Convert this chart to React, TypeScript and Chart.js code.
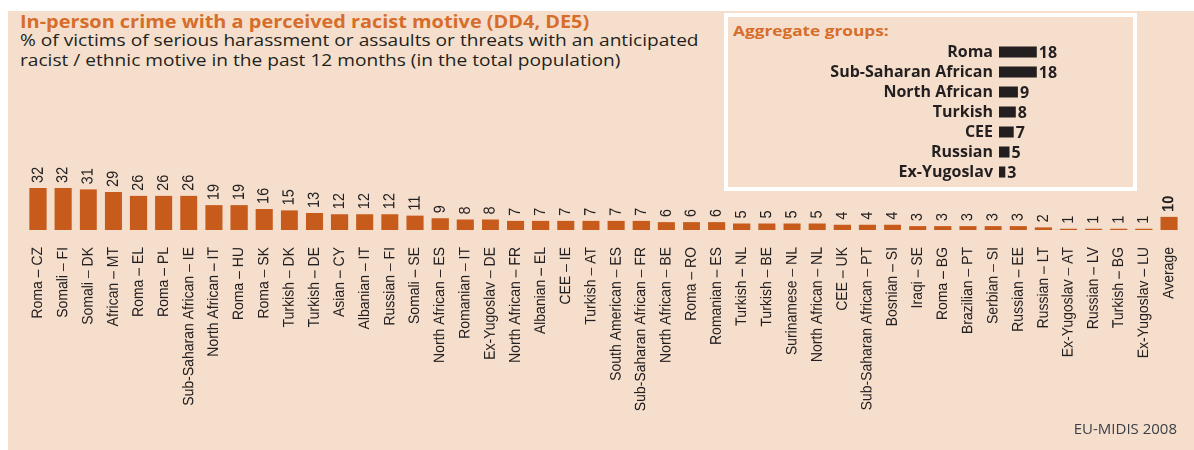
import React, { useEffect, useRef } from "react";
import { Chart, registerables } from "chart.js";

Chart.register(...registerables);

const categories = [
  "Roma – CZ", "Somali – FI", "Somali – DK", "African – MT", "Roma – EL", "Roma – PL",
  "Sub-Saharan African – IE", "North African – IT", "Roma – HU", "Roma – SK", "Turkish – DK",
  "Turkish – DE", "Asian – CY", "Albanian – IT", "Russian – FI", "Somali – SE",
  "North African – ES", "Romanian – IT", "Ex-Yugoslav – DE", "North African – FR",
  "Albanian – EL", "CEE – IE", "Turkish – AT", "South American – ES",
  "Sub-Saharan African – FR", "North African – BE", "Roma – RO", "Romanian – ES",
  "Turkish – NL", "Turkish – BE", "Surinamese – NL", "North African – NL", "CEE – UK",
  "Sub-Saharan African – PT", "Bosnian – SI", "Iraqi – SE", "Roma – BG", "Brazilian – PT",
  "Serbian – SI", "Russian – EE", "Russian – LT", "Ex-Yugoslav – AT", "Russian – LV",
  "Turkish – BG", "Ex-Yugoslav – LU", "Average",
];
const values = [
  32, 32, 31, 29, 26, 26, 26, 19, 19, 16, 15, 13, 12, 12, 12, 11, 9, 8, 8, 7, 7, 7, 7, 7, 7,
  6, 6, 6, 5, 5, 5, 5, 4, 4, 4, 3, 3, 3, 3, 3, 2, 1, 1, 1, 1, 10,
];

const aggregateGroups = ["Roma", "Sub-Saharan African", "North African", "Turkish", "CEE", "Russian", "Ex-Yugoslav"];
const aggregateValues = [18, 18, 9, 8, 7, 5, 3];

const titleText = "In-person crime with a perceived racist motive (DD4, DE5)";
const subtitleLines = [
  "% of victims of serious harassment or assaults or threats with an anticipated",
  "racist / ethnic motive in the past 12 months (in the total population)",
];
const insetTitle = "Aggregate groups:";
const sourceText = "EU-MIDIS 2008";

const BEIGE = "#f5dfcc";
const BAR_ORANGE = "#c65b1c";
const TEXT_ORANGE = "#d66d2b";
const DARK = "#231f20";
const LIB = "'Liberation Sans', Arial, sans-serif";
const OPEN = "'Open Sans', sans-serif";
const STRETCH = 1.12;

const mainValueLabels = {
  id: "mainValueLabels",
  afterDatasetsDraw(chart: any) {
    const ctx = chart.ctx;
    const meta = chart.getDatasetMeta(0);
    const data = chart.data.datasets[0].data;
    meta.data.forEach((el: any, i: number) => {
      ctx.save();
      ctx.translate(el.x, el.y - 5);
      ctx.rotate(-Math.PI / 2);
      ctx.font = `${i === data.length - 1 ? "bold " : ""}14.5px ${LIB}`;
      ctx.fillStyle = DARK;
      ctx.textAlign = "left";
      ctx.textBaseline = "middle";
      ctx.fillText(String(data[i]), 0, 0);
      ctx.restore();
    });
  },
};

const insetValueLabels = {
  id: "insetValueLabels",
  afterDatasetsDraw(chart: any) {
    const ctx = chart.ctx;
    const meta = chart.getDatasetMeta(0);
    const data = chart.data.datasets[0].data;
    meta.data.forEach((el: any, i: number) => {
      ctx.save();
      ctx.font = `bold 16px ${OPEN}`;
      ctx.fillStyle = DARK;
      ctx.textAlign = "left";
      ctx.textBaseline = "middle";
      ctx.fillText(String(data[i]), el.x + 2, el.y + 1);
      ctx.restore();
    });
  },
};

export default function App() {
  const mainRef = useRef<HTMLCanvasElement>(null);
  const insetRef = useRef<HTMLCanvasElement>(null);

  useEffect(() => {
    const main = new Chart(mainRef.current!, {
      type: "bar",
      data: {
        labels: categories,
        datasets: [
          {
            data: values,
            backgroundColor: BAR_ORANGE,
            barPercentage: 0.68,
            categoryPercentage: 1,
          },
        ],
      },
      options: {
        responsive: false,
        animation: false,
        devicePixelRatio: 2,
        layout: { padding: { left: 15.54, right: 11.14, top: 27.5, bottom: 0 } },
        plugins: { legend: { display: false }, tooltip: { enabled: false } },
        scales: {
          x: {
            grid: { display: false, drawTicks: false },
            border: { display: false },
            ticks: {
              autoSkip: false,
              maxRotation: 90,
              minRotation: 90,
              padding: 17,
              color: DARK,
              font: { family: LIB, size: 14 },
            },
            afterFit: (s: any) => {
              s.height = 220;
              s.paddingLeft = 0;
              s.paddingRight = 0;
            },
          },
          y: { display: false, min: 0, max: 40 },
        },
      },
      plugins: [mainValueLabels],
    } as any);

    const inset = new Chart(insetRef.current!, {
      type: "bar",
      data: {
        labels: aggregateGroups,
        datasets: [
          {
            data: aggregateValues,
            backgroundColor: DARK,
            barPercentage: 0.55,
            categoryPercentage: 1,
          },
        ],
      },
      options: {
        indexAxis: "y",
        responsive: false,
        animation: false,
        layout: { padding: { left: 0, right: 47, top: 2, bottom: 3 } },
        plugins: { legend: { display: false }, tooltip: { enabled: false } },
        scales: {
          x: { display: false, min: 0, max: 40 },
          y: {
            grid: { display: false, drawTicks: false },
            border: { display: false },
            ticks: {
              autoSkip: false,
              padding: 6,
              color: DARK,
              font: { family: OPEN, size: 16, weight: "bold" },
            },
            afterFit: (s: any) => {
              s.width = 269;
              s.paddingTop = 0;
              s.paddingBottom = 0;
            },
          },
        },
      },
      plugins: [insetValueLabels],
    } as any);

    return () => {
      main.destroy();
      inset.destroy();
    };
  }, []);

  return (
    <div
      style={{
        position: "absolute",
        left: 8,
        top: 11,
        width: 1186,
        height: 439,
        background: BEIGE,
        overflow: "hidden",
      }}
    >
      <div
        style={{
          position: "absolute",
          left: 12,
          top: 0,
          fontFamily: OPEN,
          fontWeight: "bold",
          fontSize: 18,
          lineHeight: "21px",
          color: TEXT_ORANGE,
          whiteSpace: "nowrap",
          transform: "scaleX(1.105)",
          transformOrigin: "left center",
        }}
      >
        {titleText}
      </div>
      <div
        style={{
          position: "absolute",
          left: 12,
          top: 19,
          fontFamily: OPEN,
          fontSize: 17,
          lineHeight: "20px",
          color: DARK,
          whiteSpace: "nowrap",
          transform: "scaleX(1.125)",
          transformOrigin: "left center",
        }}
      >
        {subtitleLines.map((l, i) => (
          <div key={i}>{l}</div>
        ))}
      </div>
      <div
        style={{
          position: "absolute",
          left: 716,
          top: 2,
          width: 413,
          height: 178,
          border: "4px solid #ffffff",
          boxSizing: "border-box",
        }}
      />
      <div
        style={{
          position: "absolute",
          left: 725,
          top: 9,
          fontFamily: OPEN,
          fontWeight: "bold",
          fontSize: 15,
          lineHeight: "20px",
          color: TEXT_ORANGE,
          whiteSpace: "nowrap",
          transform: "scaleX(1.15)",
          transformOrigin: "left center",
        }}
      >
        {insetTitle}
      </div>
      <canvas
        ref={insetRef}
        width={400}
        height={145}
        style={{ position: "absolute", left: 722, top: 29, width: 400, height: 145 }}
      />
      <div
        style={{
          position: "absolute",
          left: 0,
          top: 139,
          width: 1059,
          height: 300,
          transform: `scaleX(${STRETCH})`,
          transformOrigin: "left top",
        }}
      >
        <canvas ref={mainRef} width={1059} height={300} style={{ width: 1059, height: 300 }} />
      </div>
      <div
        style={{
          position: "absolute",
          right: 17,
          top: 408,
          fontFamily: OPEN,
          fontSize: 15,
          lineHeight: "18px",
          color: "#3b3e48",
          whiteSpace: "nowrap",
        }}
      >
        {sourceText}
      </div>
    </div>
  );
}
